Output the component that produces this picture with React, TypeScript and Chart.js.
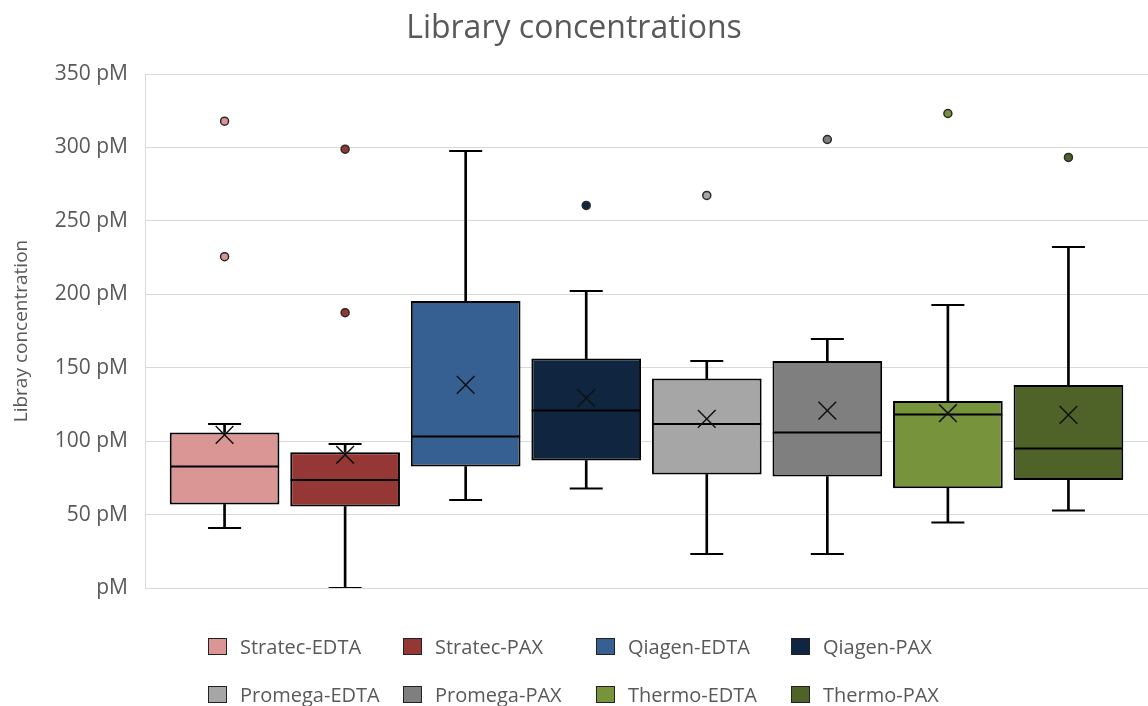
import React, { useEffect, useRef } from 'react';
import { Chart, registerables } from 'chart.js';

Chart.register(...registerables);

const categories = [
  'Stratec-EDTA',
  'Stratec-PAX',
  'Qiagen-EDTA',
  'Qiagen-PAX',
  'Promega-EDTA',
  'Promega-PAX',
  'Thermo-EDTA',
  'Thermo-PAX',
];

const colors = ['#D99694', '#953735', '#376092', '#10253F', '#A6A6A6', '#7F7F7F', '#77933C', '#4F6228'];

const whiskerLow = [40.8, 0, 59.9, 67.8, 23.1, 23.1, 44.6, 52.8];
const q1 = [56.9, 55.5, 82.7, 86.8, 77.3, 75.9, 68.0, 73.5];
const median = [82.7, 73.5, 103.1, 120.8, 111.6, 105.9, 118.1, 95.0];
const q3 = [105.9, 92.5, 195.4, 156.2, 142.6, 154.6, 127.4, 138.3];
const whiskerHigh = [111.6, 98.0, 297.5, 202.2, 154.6, 169.6, 192.7, 232.2];
const mean = [104.3, 90.7, 138.3, 129.3, 115.2, 120.8, 119.0, 117.9];
const outliers = [[317.9, 225.6], [298.8, 187.5], [], [260.5], [267.3], [305.4], [323.1], [293.2]];

const yTicks = [0, 50, 100, 150, 200, 250, 300, 350];

const FONT = "'Open Sans', 'DejaVu Sans', sans-serif";
const TEXT = '#595959';

export default function App() {
  const ref = useRef<HTMLCanvasElement>(null);

  useEffect(() => {
    if (!ref.current) return;
    const idx = categories.map((_, i) => i);
    const outlierPts: { x: number; y: number }[] = [];
    const outlierColors: string[] = [];
    outliers.forEach((arr, i) =>
      arr.forEach((v) => {
        outlierPts.push({ x: i, y: v });
        outlierColors.push(colors[i]);
      })
    );

    const chart = new Chart(ref.current, {
      type: 'bar',
      data: {
        datasets: [
          {
            type: 'bar',
            label: 'lower whisker',
            data: idx.map((i) => ({ x: i, y: [whiskerLow[i], q1[i]] })) as any,
            backgroundColor: '#000',
            borderWidth: 0,
            barThickness: 2,
            grouped: false,
            order: 6,
          },
          {
            type: 'bar',
            label: 'upper whisker',
            data: idx.map((i) => ({ x: i, y: [q3[i], whiskerHigh[i]] })) as any,
            backgroundColor: '#000',
            borderWidth: 0,
            barThickness: 2,
            grouped: false,
            order: 6,
          },
          {
            type: 'bar',
            label: 'box',
            data: idx.map((i) => ({ x: i, y: [q1[i], q3[i]] })) as any,
            backgroundColor: colors,
            borderColor: '#000',
            borderWidth: 2,
            borderSkipped: false,
            barPercentage: 0.91,
            categoryPercentage: 1,
            grouped: false,
            order: 5,
          },
          {
            type: 'scatter',
            label: 'median',
            data: idx.map((i) => ({ x: i, y: median[i] })),
            pointStyle: 'line',
            pointRadius: 54.5,
            pointHoverRadius: 54.5,
            pointBorderColor: '#000',
            pointBorderWidth: 2,
            order: 4,
          },
          {
            type: 'scatter',
            label: 'caps',
            data: [
              ...idx.map((i) => ({ x: i, y: whiskerLow[i] })),
              ...idx.map((i) => ({ x: i, y: whiskerHigh[i] })),
            ],
            pointStyle: 'line',
            pointRadius: 16.5,
            pointHoverRadius: 16.5,
            pointBorderColor: '#000',
            pointBorderWidth: 2,
            order: 4,
          },
          {
            type: 'scatter',
            label: 'mean',
            data: idx.map((i) => ({ x: i, y: mean[i] })),
            pointStyle: 'crossRot',
            pointRadius: 12.5,
            pointHoverRadius: 12.5,
            pointBorderColor: '#111',
            pointBorderWidth: 1.5,
            order: 2,
          },
          {
            type: 'scatter',
            label: 'outliers',
            data: outlierPts,
            pointStyle: 'circle',
            pointRadius: 4,
            pointHoverRadius: 4,
            pointBackgroundColor: outlierColors,
            pointBorderColor: '#2a2a2a',
            pointBorderWidth: 1.5,
            order: 1,
          },
        ] as any,
      },
      options: {
        responsive: false,
        animation: false,
        events: [],
        layout: { autoPadding: false, padding: { top: 0, left: 0, right: 0, bottom: 118 } },
        plugins: {
          legend: { display: false },
          tooltip: { enabled: false },
          title: {
            display: true,
            text: 'Library concentrations',
            color: TEXT,
            font: { family: FONT, size: 32, weight: 'normal' },
            padding: { top: 10, bottom: 25.6 },
          },
        },
        scales: {
          x: {
            type: 'linear',
            min: -0.66,
            max: 7.66,
            offset: false,
            display: false,
            grid: { display: false },
            afterBuildTicks: (s: any) => {
              s.ticks = idx.map((v) => ({ value: v }));
            },
          },
          y: {
            type: 'linear',
            min: 0,
            max: 350,
            afterFit: (s: any) => {
              s.width = 145;
            },
            afterBuildTicks: (s: any) => {
              s.ticks = yTicks.map((v) => ({ value: v }));
            },
            border: { display: true, color: '#d9d9d9', width: 1 },
            grid: { color: '#d9d9d9', lineWidth: 1, drawTicks: false },
            ticks: {
              padding: 17,
              color: TEXT,
              font: { family: FONT, size: 21 },
              callback: (v: any) => (Number(v) === 0 ? 'pM' : `${v} pM`),
            },
            title: {
              display: true,
              text: 'Libray concentration',
              color: TEXT,
              font: { family: FONT, size: 19 },
              padding: { top: 10, bottom: 0 },
            },
          },
        },
      } as any,
    });
    return () => chart.destroy();
  }, []);

  return (
    <div style={{ position: 'absolute', left: 0, top: 0, width: 1148, height: 706, background: '#fff', overflow: 'hidden' }}>
      <canvas ref={ref} width={1148} height={706} style={{ display: 'block' }} />
      <div
        style={{
          position: 'absolute',
          left: 208,
          top: 634,
          display: 'grid',
          gridTemplateColumns: '195px 193px 195px 195px',
          gridAutoRows: '48px',
          fontFamily: FONT,
          fontSize: 20,
          color: TEXT,
        }}
      >
        {categories.map((c, i) => (
          <div key={c} style={{ display: 'flex', alignItems: 'center', height: 24, whiteSpace: 'nowrap' }}>
            <span
              style={{
                display: 'inline-block',
                width: 19,
                height: 17,
                boxSizing: 'border-box',
                background: colors[i],
                border: '1.5px solid #222',
                marginRight: 13,
              }}
            />
            <span>{c}</span>
          </div>
        ))}
      </div>
    </div>
  );
}
